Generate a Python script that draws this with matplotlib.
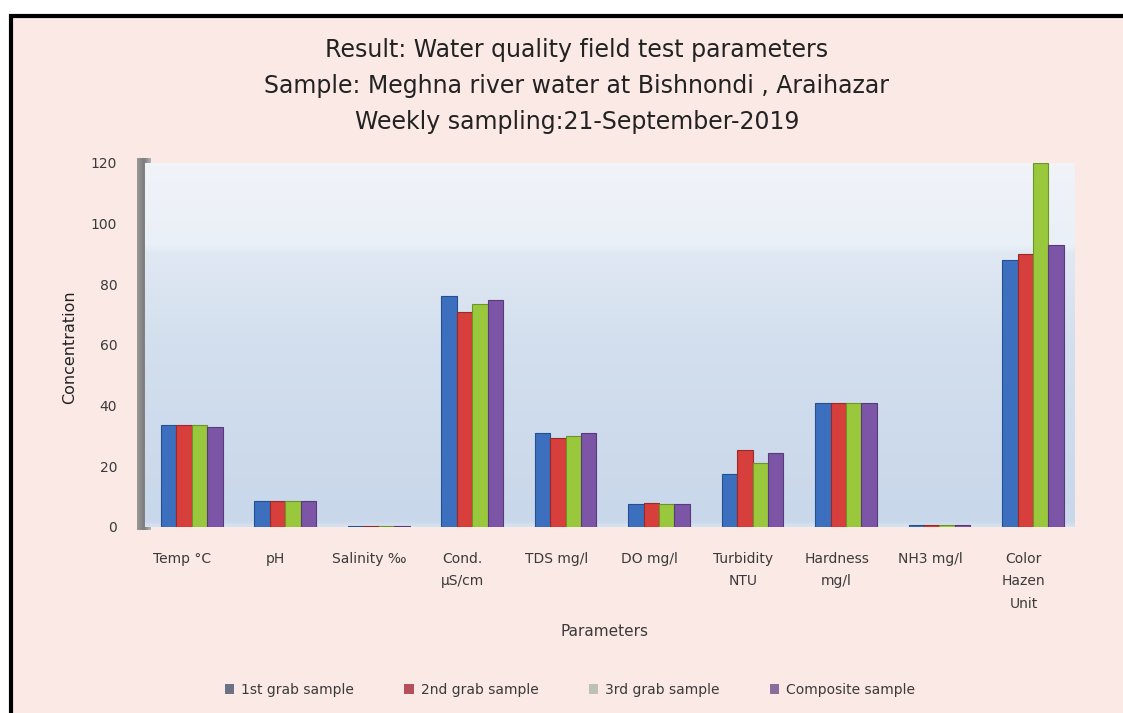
import numpy as np
import matplotlib
matplotlib.use("Agg")
import matplotlib.pyplot as plt
from matplotlib.patches import Rectangle, Patch
from matplotlib.colors import LinearSegmentedColormap

categories = ["Temp °C", "pH", "Salinity ‰", "Cond.\nµS/cm", "TDS mg/l", "DO mg/l",
              "Turbidity\nNTU", "Hardness\nmg/l", "NH3 mg/l", "Color\nHazen\nUnit"]
series_names = ["1st grab sample", "2nd grab sample", "3rd grab sample", "Composite sample"]
grab1 = [33.5, 8.5, 0.2, 76, 31, 7.5, 17.5, 41, 0.5, 88]
grab2 = [33.5, 8.5, 0.2, 71, 29.5, 8, 25.5, 41, 0.5, 90]
grab3 = [33.5, 8.5, 0.2, 73.5, 30, 7.5, 21, 41, 0.5, 120]
composite = [33, 8.5, 0.2, 75, 31, 7.5, 24.5, 41, 0.5, 93]
yticks = [0, 20, 40, 60, 80, 100, 120]

bar_colors = ["#3d6fbf", "#d63f3b", "#99c83c", "#7d55a6"]
edge_colors = ["#24508f", "#9a2a28", "#6c9528", "#573a7a"]
legend_colors = ["#6b7285", "#b4505c", "#bcc0b6", "#8c6c9a"]

W, H = 1123, 713
fig = plt.figure(figsize=(W / 100, H / 100), dpi=100)
fig.patch.set_facecolor("white")

def fx(px):
    return px / W

def fy(py):
    return 1 - py / H

# outer frame and pink panel
fig.patches.append(Rectangle((fx(11), fy(740)), fx(1130) - fx(11), fy(16) - fy(740),
                             transform=fig.transFigure, facecolor="#fbe9e6",
                             edgecolor="black", linewidth=3, zorder=-10))

font = ["DejaVu Sans"]
text_col = "#3a3a3a"

# title
title_lines = ["Result: Water quality field test parameters",
               "Sample: Meghna river water at Bishnondi , Araihazar",
               "Weekly sampling:21-September-2019"]
for i, line in enumerate(title_lines):
    fig.text(fx(577), fy(50 + 36 * i), line, ha="center", va="center",
             fontsize=17, family=font, color="#222222")

# left 3D wall strip
wall_ax = fig.add_axes([fx(137), fy(530), fx(151) - fx(137), fy(158) - fy(530)])
wall_ax.imshow(np.linspace(0, 1, 50)[None, :], cmap=LinearSegmentedColormap.from_list(
    "g", ["#9a9a9a", "#7c7c7c", "#b4b4b4"]), aspect="auto", extent=[0, 1, 0, 1])
wall_ax.axis("off")

ax = fig.add_axes([fx(145), fy(527), fx(1075) - fx(145), fy(163) - fy(527)])

# back wall gradient
grad_cmap = LinearSegmentedColormap.from_list(
    "wall", [(0.0, "#e9f0f7"), (0.03, "#c8d7ea"), (0.5, "#d3dfee"),
             (0.74, "#e0e8f3"), (0.76, "#eaf0f7"), (1.0, "#f1f4f9")])
ax.imshow(np.linspace(0, 1, 256)[:, None], cmap=grad_cmap, origin="lower",
          aspect="auto", extent=[-0.5, 9.45, -2, 123], zorder=0)
ax.set_xlim(-0.5, 9.45)
ax.set_ylim(0, 120)

x = np.arange(len(categories))
width = 0.165
data = [grab1, grab2, grab3, composite]
for k, vals in enumerate(data):
    ax.bar(x + (k - 1.5) * width, vals, width=width, color=bar_colors[k],
           edgecolor=edge_colors[k], linewidth=0.8, zorder=3)

for s in ax.spines.values():
    s.set_visible(False)
ax.set_yticks(yticks)
ax.set_yticklabels([str(v) for v in yticks], family=font, fontsize=10, color=text_col)
ax.tick_params(axis="y", length=0, pad=20)
ax.set_xticks(x - 0.1)
ax.set_xticklabels(categories, family=font, fontsize=10, color=text_col, linespacing=1.75)
ax.tick_params(axis="x", length=0, pad=18)

fig.text(fx(70), fy(347), "Concentration", rotation=90, ha="center", va="center",
         fontsize=11.5, family=font, color="#222222")
fig.text(fx(605), fy(632), "Parameters", ha="center", va="center",
         fontsize=11, family=font, color=text_col)

handles = [Patch(facecolor=c, edgecolor="none") for c in legend_colors]
fig.legend(handles, series_names, loc="center", bbox_to_anchor=(fx(570), fy(690)),
           ncol=4, frameon=False, prop={"family": font, "size": 10},
           handlelength=0.7, handleheight=0.7, columnspacing=3.6, handletextpad=0.5,
           labelcolor=text_col)

fig.savefig("out.png", dpi=100, facecolor=fig.get_facecolor())
